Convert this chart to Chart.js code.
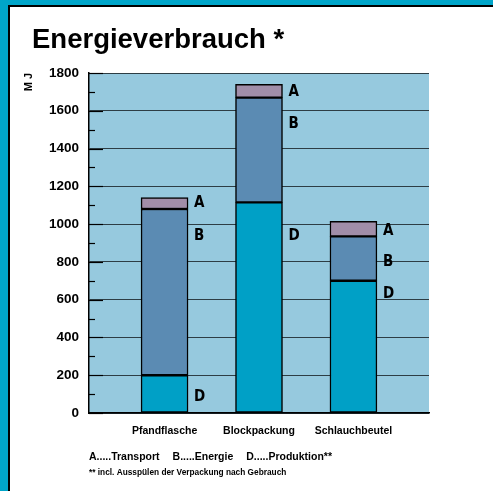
<!DOCTYPE html>
<html>
<head>
<meta charset="utf-8">
<script src="https://cdn.jsdelivr.net/npm/chart.js@4.4.1/dist/chart.umd.min.js"></script>
<style>
  html, body { margin: 0; padding: 0; background: #ffffff; }
  #frame { position: absolute; left: 0; top: 0; width: 493px; height: 491px; overflow: hidden; background: #ffffff; }
  #bandTop { position: absolute; left: 0; top: 0; width: 493px; height: 5px; background: #00a5c9; }
  #bandLeft { position: absolute; left: 0; top: 0; width: 8px; height: 491px; background: #00a5c9; }
  #lineTop { position: absolute; left: 8px; top: 5px; width: 485px; height: 2px; background: #000; }
  #lineLeft { position: absolute; left: 8px; top: 5px; width: 2px; height: 486px; background: #000; }
  canvas { position: absolute; left: 0; top: 0; }
</style>
</head>
<body>
<div id="frame">
  <div id="bandTop"></div><div id="bandLeft"></div><div id="lineTop"></div><div id="lineLeft"></div>
  <canvas id="c" width="493" height="491"></canvas>
</div>
<script>
// ---- data ----
const categories = ['Pfandflasche', 'Blockpackung', 'Schlauchbeutel'];
const produktionD = [200, 1115, 700];
const energieB = [880, 555, 235];
const transportA = [60, 70, 80];
const seriesKeys = ['D', 'B', 'A'];
const seriesNames = ['Produktion**', 'Energie', 'Transport'];
const yTicks = [0, 200, 400, 600, 800, 1000, 1200, 1400, 1600, 1800];
const chartTitle = 'Energieverbrauch *';
const yUnit = 'M J';
const footnote = '** incl. Ausspülen der Verpackung nach Gebrauch';
// letter annotations (value level where each series letter is written, per category)
const letterAtD = [85, 935, 630];
const letterAtB = [935, 1530, 800];
const letterAtA = [1110, 1700, 965];

const catPos = categories.map((c, i) => i + 1);
const toPts = arr => arr.map((v, i) => ({ x: catPos[i], y: v }));

const colD = '#00a0c6', colB = '#5b8bb3', colA = '#a18ea9';
const plotBg = '#96c9de';
const BOLD = '"Liberation Sans", Arial, sans-serif';
const NARROW = '"Liberation Sans Narrow", "DejaVu Sans Condensed", sans-serif';

const bgPlugin = {
  id: 'bg',
  beforeDraw(chart) {
    const { ctx, chartArea: a } = chart;
    ctx.save();
    ctx.fillStyle = plotBg;
    ctx.fillRect(a.left, a.top, a.right - a.left, a.bottom - a.top);
    ctx.restore();
  }
};

const tickPlugin = {
  id: 'ticksInside',
  afterDatasetsDraw(chart) {
    const { ctx, chartArea: a, scales } = chart;
    const y = scales.y;
    ctx.save();
    ctx.strokeStyle = '#000';
    ctx.lineWidth = 1.2;
    for (let v = 0; v <= 1800; v += 100) {
      const py = Math.round(y.getPixelForValue(v)) + 0.5;
      const len = (v % 200 === 0) ? 14 : 6;
      ctx.beginPath();
      ctx.moveTo(a.left, py);
      ctx.lineTo(a.left + len, py);
      ctx.stroke();
    }
    ctx.restore();
  }
};

const letterPlugin = {
  id: 'letters',
  afterDatasetsDraw(chart) {
    const { ctx, scales } = chart;
    const at = [letterAtD, letterAtB, letterAtA];
    ctx.save();
    ctx.fillStyle = '#000';
    ctx.font = 'bold 15px ' + NARROW;
    ctx.textAlign = 'left';
    ctx.textBaseline = 'middle';
    chart.data.datasets.forEach((ds, di) => {
      const meta = chart.getDatasetMeta(di);
      meta.data.forEach((bar, i) => {
        const x = bar.x + bar.width / 2 + 6;
        const yy = scales.y.getPixelForValue(at[di][i]);
        ctx.fillText(seriesKeys[di], x, yy);
      });
    });
    ctx.restore();
  }
};

const legendPlugin = {
  id: 'legendText',
  afterDraw(chart) {
    const { ctx, chartArea: a } = chart;
    ctx.save();
    ctx.fillStyle = '#000';
    ctx.textAlign = 'left';
    ctx.textBaseline = 'middle';
    ctx.font = 'bold 10.5px ' + BOLD;
    const order = [2, 1, 0];
    let x = a.left;
    order.forEach(k => {
      const t = seriesKeys[k] + '.....' + seriesNames[k];
      ctx.fillText(t, x, 457);
      x += ctx.measureText(t).width + 13;
    });
    ctx.font = 'bold 8.3px ' + BOLD;
    ctx.fillText(footnote, a.left, 473);
    ctx.restore();
  }
};

new Chart(document.getElementById('c'), {
  type: 'bar',
  data: {
    datasets: [
      { label: seriesNames[0], data: toPts(produktionD), backgroundColor: colD },
      { label: seriesNames[1], data: toPts(energieB), backgroundColor: colB },
      { label: seriesNames[2], data: toPts(transportA), backgroundColor: colA }
    ].map(d => Object.assign(d, { borderColor: '#000', borderWidth: 1.5, borderSkipped: false, barThickness: 47 }))
  },
  options: {
    responsive: false,
    animation: false,
    layout: { padding: { left: 32, right: 64, top: 0, bottom: 38 } },
    plugins: {
      legend: { display: false },
      tooltip: { enabled: false },
      title: {
        display: true, text: chartTitle, align: 'start', color: '#000',
        font: { family: BOLD, size: 27.5, weight: 'bold', lineHeight: 1.2 },
        padding: { top: 23.5, bottom: 16.5 }
      }
    },
    scales: {
      x: {
        type: 'linear', stacked: true, min: 0.2, max: 3.8, offset: false,
        afterBuildTicks: s => { s.ticks = catPos.map(v => ({ value: v })); },
        afterFit: s => { s.height = 40; },
        grid: { display: false, drawTicks: false, offset: false },
        border: { display: true, color: '#000', width: 1.5 },
        ticks: {
          callback: v => categories[v - 1] || '',
          color: '#000', padding: 12, maxRotation: 0,
          font: { family: BOLD, size: 10.5, weight: 'bold' }
        }
      },
      y: {
        stacked: true, min: 0, max: 1800,
        afterBuildTicks: s => { s.ticks = yTicks.map(v => ({ value: v })); },
        afterFit: s => { s.width = 57; },
        grid: { color: '#2d3d44', lineWidth: 1, drawTicks: false },
        border: { display: true, color: '#000', width: 1.5 },
        ticks: {
          callback: v => String(v),
          color: '#000', padding: 10, font: { family: BOLD, size: 13.5, weight: 'bold' }
        },
        title: {
          display: true, text: yUnit, align: 'end', color: '#000',
          font: { family: BOLD, size: 11, weight: 'bold', lineHeight: 1.2 },
          padding: { top: -9.3, bottom: 0 }
        }
      }
    }
  },
  plugins: [bgPlugin, tickPlugin, letterPlugin, legendPlugin]
});
</script>
</body>
</html>
